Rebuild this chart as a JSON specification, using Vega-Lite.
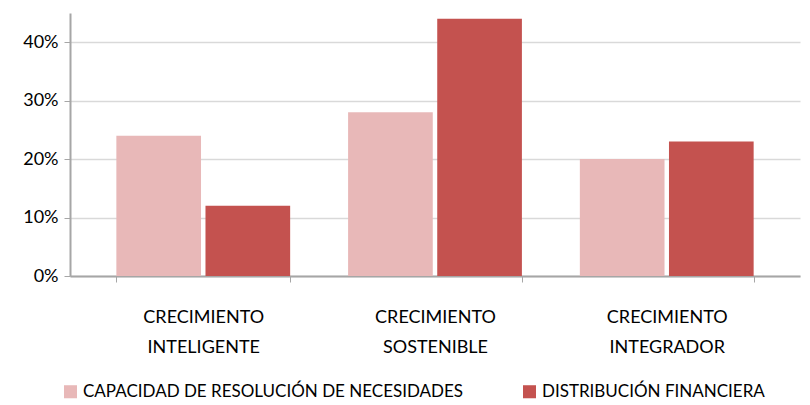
{
  "$schema": "https://vega.github.io/schema/vega-lite/v6.json",
  "autosize": {"type": "none"},
  "width": 730,
  "height": 263,
  "padding": {"left": 70, "top": 13, "right": 10, "bottom": 129},
  "background": "white",
  "config": {
    "font": "Lato",
    "view": {"stroke": null}
  },
  "data": {
    "values": [
      {"crecimiento": "CRECIMIENTO INTELIGENTE", "serie": "CAPACIDAD DE RESOLUCIÓN DE NECESIDADES", "valor": 0.24},
      {"crecimiento": "CRECIMIENTO INTELIGENTE", "serie": "DISTRIBUCIÓN FINANCIERA", "valor": 0.12},
      {"crecimiento": "CRECIMIENTO SOSTENIBLE", "serie": "CAPACIDAD DE RESOLUCIÓN DE NECESIDADES", "valor": 0.28},
      {"crecimiento": "CRECIMIENTO SOSTENIBLE", "serie": "DISTRIBUCIÓN FINANCIERA", "valor": 0.44},
      {"crecimiento": "CRECIMIENTO INTEGRADOR", "serie": "CAPACIDAD DE RESOLUCIÓN DE NECESIDADES", "valor": 0.20},
      {"crecimiento": "CRECIMIENTO INTEGRADOR", "serie": "DISTRIBUCIÓN FINANCIERA", "valor": 0.23}
    ]
  },
  "mark": {"type": "bar"},
  "encoding": {
    "x": {
      "field": "crecimiento",
      "type": "nominal",
      "sort": ["CRECIMIENTO INTELIGENTE", "CRECIMIENTO SOSTENIBLE", "CRECIMIENTO INTEGRADOR"],
      "scale": {"paddingInner": 0.25, "paddingOuter": 0.2},
      "axis": {
        "title": null,
        "labelAngle": 0,
        "labelExpr": "split(datum.label, ' ')",
        "labelFontSize": 18,
        "labelColor": "#000000",
        "labelPadding": 26,
        "labelLineHeight": 30,
        "domainColor": "#a6a6a6",
        "domainWidth": 2,
        "tickColor": "#a6a6a6",
        "ticks": true,
        "tickSize": 6,
        "tickBand": "extent"
      }
    },
    "xOffset": {
      "field": "serie",
      "type": "nominal",
      "sort": ["CAPACIDAD DE RESOLUCIÓN DE NECESIDADES", "DISTRIBUCIÓN FINANCIERA"],
      "scale": {"paddingInner": 0.05}
    },
    "y": {
      "field": "valor",
      "type": "quantitative",
      "scale": {"domain": [0, 0.45], "nice": false},
      "axis": {
        "title": null,
        "format": ".0%",
        "values": [0, 0.1, 0.2, 0.3, 0.4],
        "labelFontSize": 18,
        "labelColor": "#000000",
        "labelPadding": 6,
        "grid": true,
        "gridColor": "#d9d9d9",
        "gridWidth": 1.5,
        "domainColor": "#a6a6a6",
        "domainWidth": 2,
        "tickColor": "#a6a6a6",
        "tickSize": 6
      }
    },
    "color": {
      "field": "serie",
      "type": "nominal",
      "sort": ["CAPACIDAD DE RESOLUCIÓN DE NECESIDADES", "DISTRIBUCIÓN FINANCIERA"],
      "scale": {
        "domain": ["CAPACIDAD DE RESOLUCIÓN DE NECESIDADES", "DISTRIBUCIÓN FINANCIERA"],
        "range": ["#E8B8B8", "#C4524F"]
      },
      "legend": {
        "title": null,
        "orient": "none",
        "legendX": -8,
        "legendY": 370,
        "direction": "horizontal",
        "symbolType": "square",
        "symbolSize": 170,
        "symbolStrokeWidth": 0,
        "labelFontSize": 17,
        "labelColor": "#000000",
        "columnPadding": 57,
        "labelLimit": 450
      }
    }
  }
}
